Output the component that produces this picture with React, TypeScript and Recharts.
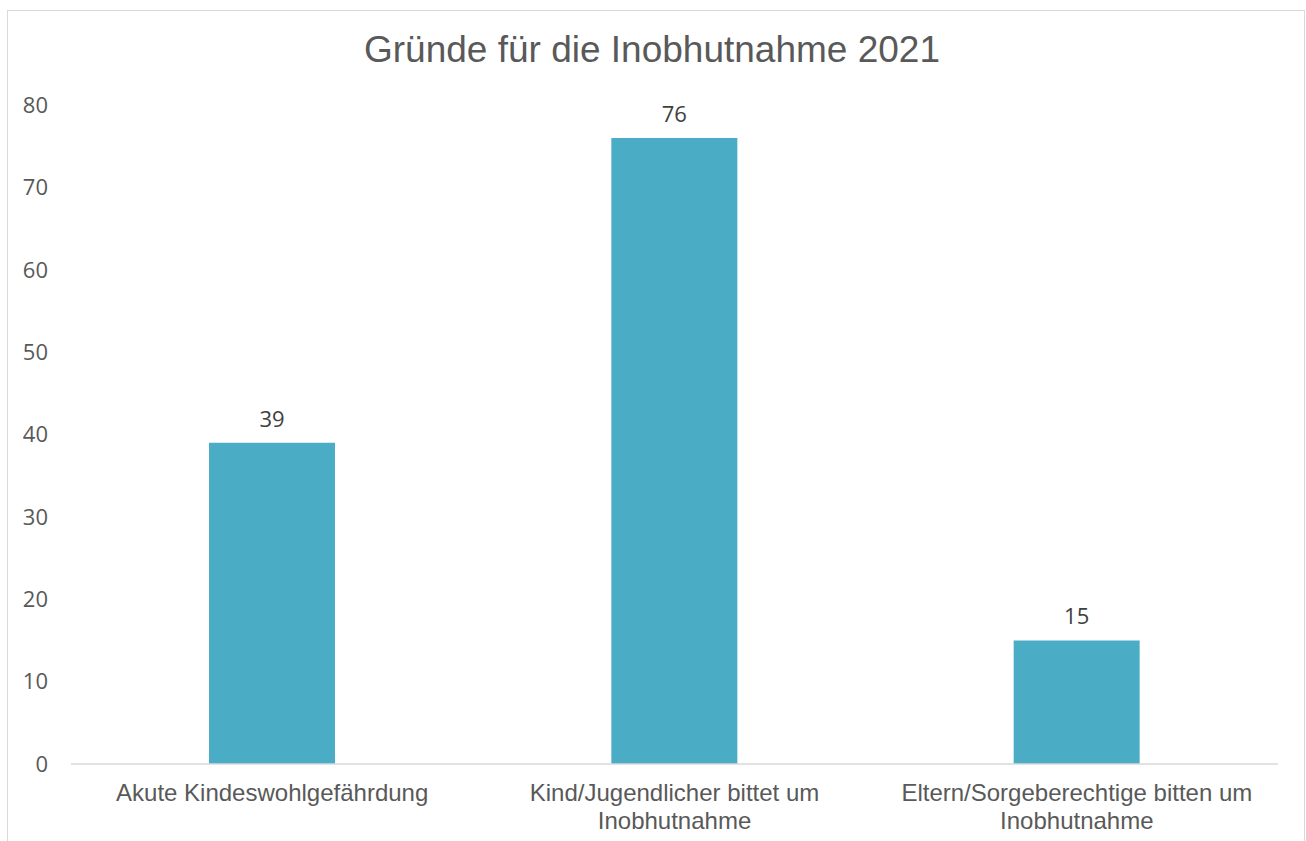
import { BarChart, Bar, XAxis, YAxis, LabelList } from 'recharts';

const categories = [
  'Akute Kindeswohlgefährdung',
  'Kind/Jugendlicher bittet um\nInobhutnahme',
  'Eltern/Sorgeberechtige bitten um\nInobhutnahme',
];
const counts = [39, 76, 15];
const yTicks = [0, 10, 20, 30, 40, 50, 60, 70, 80];

const data = categories.map((name, i) => ({ name, value: counts[i] }));

function CategoryTick({ x, y, payload }: any) {
  const lines = String(payload.value).split('\n');
  return (
    <text
      x={x}
      y={y}
      textAnchor="middle"
      fill="#595959"
      style={{ fontFamily: '"Liberation Sans", Arial, sans-serif', fontSize: 24 }}
    >
      {lines.map((line, i) => (
        <tspan key={i} x={x} dy={i === 0 ? 29 : 28}>
          {line}
        </tspan>
      ))}
    </text>
  );
}

export default function App() {
  return (
    <div
      style={{
        position: 'absolute',
        left: 7,
        top: 10,
        width: 1298,
        height: 850,
        border: '1px solid #d9d9d9',
        boxSizing: 'border-box',
        background: '#fff',
      }}
    >
      <div
        style={{
          position: 'absolute',
          left: -4,
          top: 17,
          width: 1296,
          textAlign: 'center',
          fontFamily: '"Liberation Sans", Arial, sans-serif',
          fontSize: 37,
          lineHeight: '43px',
          color: '#595959',
        }}
      >
        Gründe für die Inobhutnahme 2021
      </div>
      <BarChart
        width={1296}
        height={848}
        data={data}
        margin={{ top: 94, right: 26, bottom: 0, left: 0 }}
        barCategoryGap={0}
      >
        <XAxis
          dataKey="name"
          axisLine={{ stroke: '#d9d9d9', strokeWidth: 1.5 }}
          tickLine={false}
          height={95}
          interval={0}
          tick={<CategoryTick />}
        />
        <YAxis
          domain={[0, 80]}
          ticks={yTicks}
          width={63}
          axisLine={false}
          tickLine={false}
          tickSize={0}
          tickMargin={23}
          tick={{ fill: '#595959', fontSize: 22, fontFamily: '"Open Sans", sans-serif' }}
        />
        <Bar dataKey="value" fill="#4bacc6" barSize={126} isAnimationActive={false}>
          <LabelList
            dataKey="value"
            position="top"
            offset={16}
            fill="#404040"
            style={{ fontSize: 22, fontFamily: '"Open Sans", sans-serif' }}
          />
        </Bar>
      </BarChart>
    </div>
  );
}
